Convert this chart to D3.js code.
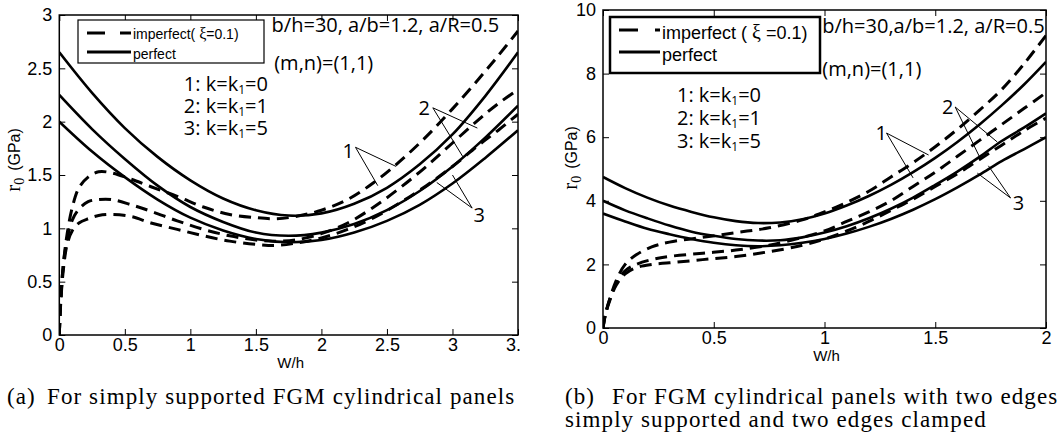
<!DOCTYPE html>
<html>
<head>
<meta charset="utf-8">
<script src="https://cdn.jsdelivr.net/npm/d3@7"></script>
<style>
  body { margin: 0; background: #fff; }
  svg { display: block; }
</style>
</head>
<body>
<script>
// panel (a) - simply supported
var leftSolidX = [0, 0.25, 0.5, 0.75, 1.0, 1.25, 1.5, 1.75, 2.0, 2.25, 2.5, 2.75, 3.0, 3.25, 3.5];
var leftPerfect1 = [2.65, 2.27, 1.94, 1.67, 1.45, 1.28, 1.17, 1.12, 1.14, 1.23, 1.38, 1.6, 1.88, 2.24, 2.65];
var leftPerfect2 = [2.25, 1.93, 1.65, 1.4, 1.2, 1.06, 0.96, 0.93, 0.96, 1.04, 1.17, 1.35, 1.58, 1.85, 2.15];
var leftPerfect3 = [2.0, 1.72, 1.48, 1.27, 1.1, 0.98, 0.9, 0.87, 0.89, 0.96, 1.07, 1.22, 1.42, 1.66, 1.92];

var leftDashX = [0, 0.01, 0.03, 0.06, 0.1, 0.15, 0.22, 0.3, 0.4, 0.55, 0.7, 0.9, 1.1, 1.3, 1.5, 1.65, 1.8, 2.0, 2.2, 2.4, 2.6, 2.8, 3.0, 3.2, 3.35, 3.5];
var leftImperfect1 = [0, 0.3, 0.65, 0.95, 1.2, 1.38, 1.48, 1.53, 1.52, 1.46, 1.39, 1.3, 1.2, 1.13, 1.1, 1.09, 1.11, 1.17, 1.27, 1.43, 1.63, 1.86, 2.12, 2.4, 2.62, 2.85];
var leftImperfect2 = [0, 0.3, 0.65, 0.9, 1.08, 1.18, 1.25, 1.27, 1.27, 1.22, 1.16, 1.07, 0.99, 0.93, 0.89, 0.88, 0.89, 0.95, 1.05, 1.2, 1.38, 1.58, 1.8, 2.02, 2.17, 2.3];
var leftImperfect3 = [0, 0.28, 0.6, 0.85, 0.98, 1.05, 1.09, 1.12, 1.13, 1.11, 1.05, 0.99, 0.93, 0.88, 0.85, 0.84, 0.86, 0.91, 0.99, 1.1, 1.24, 1.4, 1.58, 1.78, 1.92, 2.07];

// panel (b) - two edges simply supported, two clamped
var rightSolidX = [0, 0.1, 0.2, 0.3, 0.4, 0.5, 0.6, 0.7, 0.8, 0.9, 1.0, 1.1, 1.2, 1.3, 1.4, 1.5, 1.6, 1.7, 1.8, 1.9, 2.0];
var rightPerfect1 = [4.75, 4.4, 4.1, 3.85, 3.65, 3.48, 3.36, 3.3, 3.32, 3.42, 3.6, 3.85, 4.15, 4.5, 4.9, 5.35, 5.85, 6.4, 7.0, 7.65, 8.37];
var rightPerfect2 = [4.0, 3.7, 3.45, 3.22, 3.03, 2.9, 2.8, 2.75, 2.76, 2.85, 3.0, 3.2, 3.45, 3.75, 4.1, 4.5, 4.92, 5.38, 5.88, 6.3, 6.75];
var rightPerfect3 = [3.6, 3.35, 3.12, 2.95, 2.8, 2.68, 2.6, 2.57, 2.6, 2.68, 2.8, 2.97, 3.18, 3.43, 3.72, 4.05, 4.42, 4.82, 5.25, 5.62, 6.0];

var rightDashX = [0, 0.01, 0.03, 0.06, 0.1, 0.15, 0.22, 0.3, 0.45, 0.6, 0.75, 0.9, 1.0, 1.1, 1.2, 1.3, 1.4, 1.5, 1.6, 1.7, 1.8, 1.9, 2.0];
var rightImperfect1 = [0, 0.4, 0.9, 1.5, 2.0, 2.3, 2.55, 2.7, 2.85, 3.0, 3.15, 3.4, 3.65, 3.95, 4.3, 4.75, 5.2, 5.7, 6.25, 6.85, 7.5, 8.3, 9.2];
var rightImperfect2 = [0, 0.4, 0.9, 1.4, 1.8, 2.0, 2.15, 2.25, 2.35, 2.45, 2.6, 2.85, 3.05, 3.35, 3.65, 4.0, 4.45, 4.9, 5.4, 5.9, 6.4, 6.9, 7.4];
var rightImperfect3 = [0, 0.4, 0.85, 1.35, 1.7, 1.9, 2.0, 2.05, 2.15, 2.25, 2.4, 2.6, 2.8, 3.05, 3.35, 3.7, 4.05, 4.45, 4.85, 5.3, 5.75, 6.2, 6.6];

var leftXTicks = [0, 0.5, 1, 1.5, 2, 2.5, 3, 3.5];
var leftYTicks = [0, 0.5, 1, 1.5, 2, 2.5, 3];
var rightXTicks = [0, 0.5, 1, 1.5, 2];
var rightYTicks = [0, 2, 4, 6, 8, 10];

var caseNames = ['1', '2', '3'];
var caseK = ['0', '1', '5'];

var chart = function() {
  var svg;
  var sansFont = '"Liberation Sans", Arial, sans-serif';
  var noteFont = '"Open Sans", "Noto Sans", sans-serif';
  var serifFont = '"Liberation Serif", "DejaVu Serif", serif';
  var tickFormat = d3.format('~g');

  var createSvg = function() {
    svg = d3.select('body')
      .append('svg')
      .attr('width', 1062)
      .attr('height', 442);
    svg.append('rect')
      .attr('width', '100%')
      .attr('height', '100%')
      .style('fill', '#fff');
  };

  var toPoints = function(xs, ys) {
    return xs.map(function(d, i) { return [d, ys[i]]; });
  };

  var drawPanel = function(o) {
    var g = svg.append('g');
    if(o.clipWidth) {
      svg.append('clipPath').attr('id', o.id + '-fig')
        .append('rect').attr('x', 0).attr('y', 0).attr('width', o.clipWidth).attr('height', 442);
      g.attr('clip-path', 'url(#' + o.id + '-fig)');
    }
    var x = d3.scaleLinear().domain(o.xDomain).range([o.left, o.right]);
    var y = d3.scaleLinear().domain(o.yDomain).range([o.bottom, o.top]);

    svg.append('clipPath').attr('id', o.id + '-plot')
      .append('rect')
      .attr('x', o.left).attr('y', o.top)
      .attr('width', o.right - o.left).attr('height', o.bottom - o.top);

    var styleAxis = function(sel) {
      sel.select('.domain').remove();
      sel.selectAll('line').attr('stroke', '#000').attr('stroke-width', 1);
      sel.selectAll('text').attr('fill', '#000');
      sel.attr('font-family', sansFont).attr('font-size', 18);
    };

    g.append('g').attr('transform', 'translate(0,' + o.bottom + ')')
      .call(d3.axisBottom(x).tickValues(o.xTicks).tickFormat(tickFormat)
        .tickSizeInner(-6).tickSizeOuter(0).tickPadding(3))
      .call(styleAxis);
    g.append('g').attr('transform', 'translate(0,' + o.top + ')')
      .call(d3.axisTop(x).tickValues(o.xTicks).tickSizeInner(-6).tickSizeOuter(0).tickFormat(''))
      .call(styleAxis);
    g.append('g').attr('transform', 'translate(' + o.left + ',0)')
      .call(d3.axisLeft(y).tickValues(o.yTicks).tickFormat(tickFormat)
        .tickSizeInner(-6).tickSizeOuter(0).tickPadding(7))
      .call(styleAxis);
    g.append('g').attr('transform', 'translate(' + o.right + ',0)')
      .call(d3.axisRight(y).tickValues(o.yTicks).tickSizeInner(-6).tickSizeOuter(0).tickFormat(''))
      .call(styleAxis);

    var line = d3.line()
      .x(function(d) { return x(d[0]); })
      .y(function(d) { return y(d[1]); })
      .curve(d3.curveCatmullRom.alpha(0.5));

    var curves = g.append('g').attr('clip-path', 'url(#' + o.id + '-plot)');
    o.solid.forEach(function(ys) {
      curves.append('path')
        .attr('d', line(toPoints(o.solidX, ys)))
        .style('fill', 'none').style('stroke', '#000').style('stroke-width', 2.6);
    });
    o.dashed.forEach(function(ys) {
      curves.append('path')
        .attr('d', line(toPoints(o.dashX, ys)))
        .style('fill', 'none').style('stroke', '#000').style('stroke-width', 3)
        .style('stroke-dasharray', '12,7');
    });

    g.append('rect')
      .attr('x', o.left).attr('y', o.top)
      .attr('width', o.right - o.left).attr('height', o.bottom - o.top)
      .style('fill', 'none').style('stroke', '#000').style('stroke-width', 1.5);

    // axis titles
    g.append('text')
      .attr('x', (o.left + o.right) / 2 + 2).attr('y', o.bottom + 33)
      .attr('text-anchor', 'middle')
      .attr('font-family', sansFont).attr('font-size', 15)
      .text('W/h');

    var yl = g.append('text')
      .attr('transform', 'translate(' + o.yLabelX + ',' + o.yLabelY + ') rotate(-90)')
      .attr('text-anchor', 'middle');
    yl.append('tspan').attr('font-family', serifFont).attr('font-size', 21).text('r');
    yl.append('tspan').attr('font-family', serifFont).attr('font-size', 14).attr('dy', 4).text('0');
    yl.append('tspan').attr('font-family', sansFont).attr('font-size', 16).attr('dy', -4).attr('dx', 7).text('(GPa)');

    // parameter notes
    var note = function(p, str) {
      return g.append('text')
        .attr('x', x(p[0])).attr('y', y(p[1]))
        .attr('font-family', noteFont).attr('font-size', 20)
        .text(str);
    };
    note(o.paramAt, o.paramText);
    note(o.modeAt, '(m,n)=(1,1)');

    caseNames.forEach(function(name, i) {
      var t = g.append('text')
        .attr('x', x(o.keyAt[0])).attr('y', y(o.keyAt[1]) + i * o.keyStep)
        .attr('font-family', noteFont).attr('font-size', 20);
      t.append('tspan').text(name + ': k=k');
      t.append('tspan').attr('font-size', 12).attr('dy', 3).text('1');
      t.append('tspan').attr('dy', -3).text('=' + caseK[i]);
    });

    // numbered pointers
    o.pointers.forEach(function(p, i) {
      note(p.at, caseNames[i]);
      p.to.forEach(function(end) {
        g.append('line')
          .attr('x1', x(p.from[0])).attr('y1', y(p.from[1]))
          .attr('x2', x(end[0])).attr('y2', y(end[1]))
          .style('stroke', '#000').style('stroke-width', 1);
      });
    });

    // legend
    var lg = o.legend;
    g.append('rect')
      .attr('x', lg.x).attr('y', lg.y).attr('width', lg.w).attr('height', lg.h)
      .style('fill', '#fff').style('stroke', '#000').style('stroke-width', lg.border);
    g.append('line')
      .attr('x1', lg.x + 9).attr('x2', lg.x + 9 + lg.sample)
      .attr('y1', lg.y + lg.row1).attr('y2', lg.y + lg.row1)
      .style('stroke', '#000').style('stroke-width', 3)
      .style('stroke-dasharray', lg.dash);
    g.append('line')
      .attr('x1', lg.x + 9).attr('x2', lg.x + 9 + lg.sample)
      .attr('y1', lg.y + lg.row2).attr('y2', lg.y + lg.row2)
      .style('stroke', '#000').style('stroke-width', 3);
    var t1 = g.append('text')
      .attr('x', lg.x + 11 + lg.sample).attr('y', lg.y + lg.text1)
      .attr('font-family', sansFont).attr('font-size', lg.font);
    t1.append('tspan').text(lg.label[0]);
    t1.append('tspan').attr('font-family', serifFont).attr('font-size', lg.font + 2).text('\u03be');
    t1.append('tspan').text(lg.label[1]);
    g.append('text')
      .attr('x', lg.x + 11 + lg.sample).attr('y', lg.y + lg.text2)
      .attr('font-family', sansFont).attr('font-size', lg.font)
      .text('perfect');

    // caption
    var cap = svg.append('g')
      .attr('font-family', serifFont).attr('font-size', 23)
      .style('letter-spacing', '1.1px');
    cap.append('text').attr('x', o.capX).attr('y', 404).text(o.capTag);
    o.caption.forEach(function(s, i) {
      cap.append('text')
        .attr('x', i === 0 ? o.capTextX : o.capX)
        .attr('y', 404 + i * 23)
        .text(s);
    });
  };

  var draw = function() {
    drawPanel({
      id: 'a', clipWidth: 521,
      left: 59.3, right: 518, top: 15, bottom: 335,
      xDomain: [0, 3.5], yDomain: [0, 3],
      xTicks: leftXTicks, yTicks: leftYTicks,
      solidX: leftSolidX, solid: [leftPerfect1, leftPerfect2, leftPerfect3],
      dashX: leftDashX, dashed: [leftImperfect1, leftImperfect2, leftImperfect3],
      yLabelX: 20, yLabelY: 160,
      paramAt: [1.62, 2.84], paramText: 'b/h=30, a/b=1.2, a/R=0.5',
      modeAt: [1.64, 2.48],
      keyAt: [0.95, 2.29], keyStep: 22,
      pointers: [
        {at: [2.16, 1.66], from: [2.26, 1.76], to: [[2.57, 1.58], [2.43, 1.4]]},
        {at: [2.74, 2.06], from: [2.85, 2.13], to: [[3.19, 1.94], [3.08, 1.67]]},
        {at: [3.16, 1.06], from: [3.15, 1.19], to: [[2.88, 1.43], [3.0, 1.5]]}
      ],
      legend: {x: 78, y: 20, w: 186, h: 43, border: 1.2, sample: 44, dash: '18,15',
        row1: 13, row2: 32, text1: 19, text2: 39, font: 14,
        label: ['imperfect( ', '=0.1)']},
      capX: 7, capTextX: 47, capTag: '(a)',
      caption: ['For simply supported FGM cylindrical panels']
    });

    drawPanel({
      id: 'b',
      left: 603, right: 1046, top: 10, bottom: 328,
      xDomain: [0, 2], yDomain: [0, 10],
      xTicks: rightXTicks, yTicks: rightYTicks,
      solidX: rightSolidX, solid: [rightPerfect1, rightPerfect2, rightPerfect3],
      dashX: rightDashX, dashed: [rightImperfect1, rightImperfect2, rightImperfect3],
      yLabelX: 577, yLabelY: 158,
      paramAt: [0.99, 9.28], paramText: 'b/h=30,a/b=1.2, a/R=0.5',
      modeAt: [0.99, 7.92],
      keyAt: [0.334, 7.1], keyStep: 23,
      pointers: [
        {at: [1.23, 5.91], from: [1.28, 6.13], to: [[1.47, 5.44], [1.4, 4.72]]},
        {at: [1.53, 6.73], from: [1.59, 6.95], to: [[1.78, 5.85], [1.7, 5.38]]},
        {at: [1.85, 3.71], from: [1.84, 4.09], to: [[1.69, 4.87], [1.74, 5.1]]}
      ],
      legend: {x: 610, y: 17, w: 210, h: 56, border: 2.5, sample: 41, dash: '19,17',
        row1: 13, row2: 35, text1: 22, text2: 44, font: 18,
        label: ['imperfect ( ', ' =0.1)']},
      capX: 565, capTextX: 612, capTag: '(b)',
      caption: ['For FGM cylindrical panels with two edges', 'simply supported and two edges clamped']
    });
  };

  var public = {
    createSvg: createSvg,
    draw: draw
  };

  return public;
}();

chart.createSvg();
chart.draw();
</script>
</body>
</html>
